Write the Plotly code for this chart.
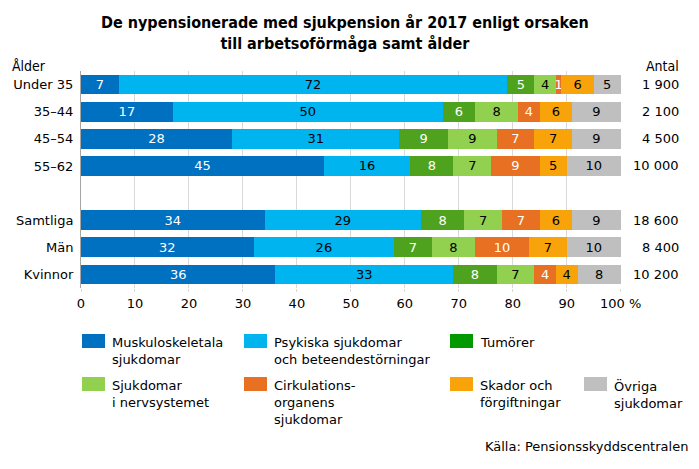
import plotly.graph_objects as go

# categories (blank entry is the gap row between age groups and totals)
groups = ["Under 35", "35–44", "45–54", "55–62", " ", "Samtliga", "Män", "Kvinnor"]
antal = ["1 900", "2 100", "4 500", "10 000", "", "18 600", "8 400", "10 200"]

# shares (%) per cause, one value per group
musk = [7, 17, 28, 45, None, 34, 32, 36]
psyk = [72, 50, 31, 16, None, 29, 26, 33]
tumor = [5, 6, 9, 8, None, 8, 7, 8]
nerv = [4, 8, 9, 7, None, 7, 8, 7]
cirk = [1, 4, 7, 9, None, 7, 10, 4]
skador = [6, 6, 7, 5, None, 6, 7, 4]
ovriga = [5, 9, 9, 10, None, 9, 10, 8]

x_ticks = [0, 10, 20, 30, 40, 50, 60, 70, 80, 90, 100]
x_ticktext = ["0", "10", "20", "30", "40", "50", "60", "70", "80", "90", "100 %"]

series = [
    ("Muskuloskeletala<br>sjukdomar", musk, "#0070C0", "white", "#0070C0"),
    ("Psykiska sjukdomar<br>och beteendestörningar", psyk, "#00B4F0", "black", "#00B4F0"),
    ("Tumörer", tumor, "#4EA21E", "white", "#009A00"),
    ("Sjukdomar<br>i nervsystemet", nerv, "#92D050", "black", "#92D050"),
    ("Cirkulations-<br>organens<br>sjukdomar", cirk, "#E87022", "white", "#E87022"),
    ("Skador och<br>förgiftningar", skador, "#F9A30A", "black", "#F9A30A"),
    ("Övriga<br>sjukdomar", ovriga, "#BFBFBF", "black", "#BFBFBF"),
]

FONT = "DejaVu Sans, Verdana, sans-serif"
COND = "DejaVu Sans Condensed, Liberation Sans Narrow, DejaVu Sans, sans-serif"

# page body adds an 8px margin, so the figure is drawn smaller and all
# reference pixel positions are shifted by that amount
OFF = 8
W, H = 699 - 2 * OFF, 469 - OFF
L, T = 81 - OFF, 71 - OFF
pw, ph = 540, 217
R, B = W - L - pw, H - T - ph

def px(x):
    return (x - OFF - L) / pw

def py(y):
    return (T + ph - (y - OFF)) / ph

fig = go.Figure()
for name, vals, col, tcol, _ in series:
    fig.add_trace(go.Bar(
        y=groups, x=vals, orientation="h", name=name,
        marker=dict(color=col, line=dict(width=0)),
        text=[("" if v is None else str(v)) for v in vals],
        textposition="inside", insidetextanchor="middle",
        constraintext="none", textangle=0,
        textfont=dict(color=tcol, size=13, family=FONT),
        hoverinfo="skip",
    ))

fig.update_layout(
    barmode="stack", bargap=0.27,
    width=W, height=H,
    margin=dict(l=L, r=R, t=T, b=B),
    plot_bgcolor="white", paper_bgcolor="white",
    showlegend=False,
    font=dict(family=FONT, size=13, color="black"),
)
fig.update_xaxes(
    range=[0, 100.05], tickvals=x_ticks, ticktext=x_ticktext,
    showgrid=True, gridcolor="#D9D9D9", gridwidth=1,
    zeroline=False, showline=False, automargin=False,
    ticks="outside", ticklen=3, tickcolor="#D9D9D9",
    tickfont=dict(size=13, family=FONT),
)
fig.update_yaxes(
    categoryorder="array", categoryarray=groups, autorange="reversed",
    showgrid=False, showline=True, linecolor="#A6A6A6", linewidth=1,
    ticks="", ticklabelstandoff=4, automargin=False,
    tickfont=dict(size=13, family=FONT),
)

# Antal column on the right
for g, a in zip(groups, antal):
    if a:
        fig.add_annotation(x=px(681), xref="paper", y=g, yref="y", text=a,
                           showarrow=False, xanchor="right",
                           font=dict(size=13, family=FONT))

fig.add_annotation(x=px(345), xref="paper", y=py(33), yref="paper",
                   text="<b>De nypensionerade med sjukpension år 2017 enligt orsaken<br>till arbetsoförmåga samt ålder</b>",
                   showarrow=False, xanchor="center", yanchor="middle",
                   font=dict(size=16, family=COND))
fig.add_annotation(x=px(10), xref="paper", y=py(56), yref="paper", text="Ålder",
                   showarrow=False, xanchor="left", font=dict(size=14, family=COND))
fig.add_annotation(x=px(681), xref="paper", y=py(56), yref="paper", text="Antal",
                   showarrow=False, xanchor="right", font=dict(size=14, family=COND))

# hand-made legend
slots = [(82, 334), (244, 334), (450, 334), (82, 377), (244, 377), (450, 377), (584, 377)]
for (sx, sy), (name, _, _, _, lcol) in zip(slots, series):
    fig.add_shape(type="rect", xref="paper", yref="paper",
                  x0=px(sx), x1=px(sx + 23), y0=py(sy), y1=py(sy + 14),
                  fillcolor=lcol, line=dict(width=0))
    fig.add_annotation(x=px(sx + 28), xref="paper", y=py(sy - 1), yref="paper",
                       text=name, showarrow=False, xanchor="left", yanchor="top",
                       align="left", font=dict(size=13, family=FONT))

fig.add_annotation(x=px(690), xref="paper", y=py(456), yref="paper",
                   text="Källa: Pensionsskyddscentralen", showarrow=False,
                   xanchor="right", font=dict(size=13, family=FONT))

fig.write_html("out.html")
